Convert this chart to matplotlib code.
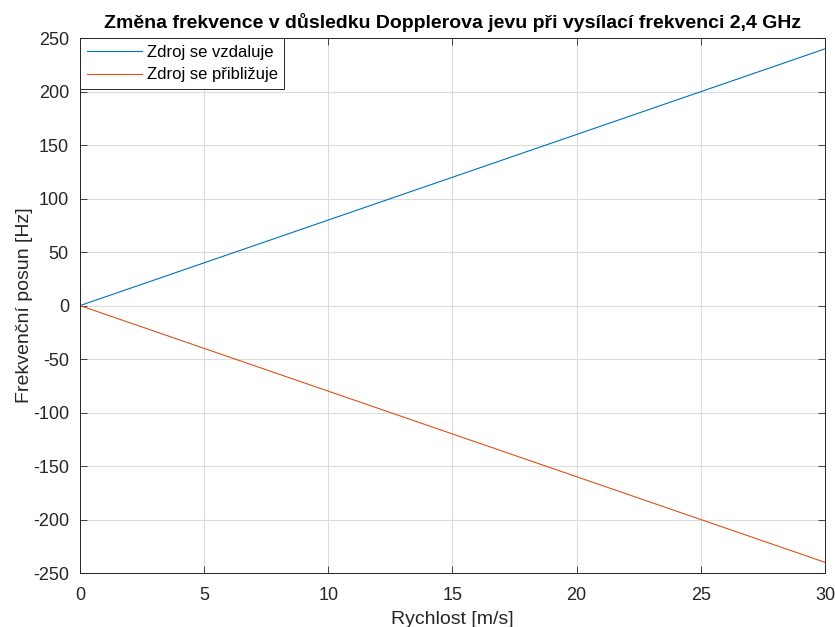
import matplotlib.pyplot as plt

plt.rcParams['font.family'] = ['Liberation Sans', 'DejaVu Sans']
plt.rcParams['axes.unicode_minus'] = False

# rychlost [m/s] a frekvencni posun [Hz]
rychlost = [0, 5, 10, 15, 20, 25, 30]
posun_vzdaluje = [0, 40, 80, 120, 160, 200, 240]
posun_priblizuje = [0, -40, -80, -120, -160, -200, -240]

xticks = [0, 5, 10, 15, 20, 25, 30]
yticks = [-250, -200, -150, -100, -50, 0, 50, 100, 150, 200, 250]

fig = plt.figure(figsize=(8.35, 6.27), dpi=100)
ax = fig.add_axes([0.0958, 0.0861, 0.8922, 0.853])

ax.plot(rychlost, posun_vzdaluje, color='#0072BD', lw=0.8, label='Zdroj se vzdaluje')
ax.plot(rychlost, posun_priblizuje, color='#D95319', lw=0.8, label='Zdroj se přibližuje')

ax.set_xlim(0, 30)
ax.set_ylim(-250, 250)
ax.set_xticks(xticks)
ax.set_yticks(yticks)
ax.grid(True, color='#dcdcdc', lw=0.8)
ax.set_axisbelow(True)
ax.tick_params(direction='in', top=True, right=True, length=5, width=0.6,
               labelsize=13, colors='#262626')
ax.tick_params(axis='x', pad=10)
ax.tick_params(axis='y', pad=8)
for s in ax.spines.values():
    s.set_color('#262626')
    s.set_linewidth(0.7)

ax.set_title('Změna frekvence v důsledku Dopplerova jevu při vysílací frekvenci 2,4 GHz',
             fontsize=14, fontweight='bold', pad=7)
ax.set_xlabel('Rychlost [m/s]', fontsize=14, color='#262626', labelpad=5)
ax.set_ylabel('Frekvenční posun [Hz]', fontsize=14, color='#262626', labelpad=0)

leg = ax.legend(loc='upper left', fontsize=12, fancybox=False, framealpha=1,
                edgecolor='#262626', borderaxespad=0, handlelength=3.3,
                borderpad=0.4, labelspacing=0.45, handletextpad=0.3)
leg.get_frame().set_linewidth(0.7)

fig.savefig('out.png', dpi=100)
